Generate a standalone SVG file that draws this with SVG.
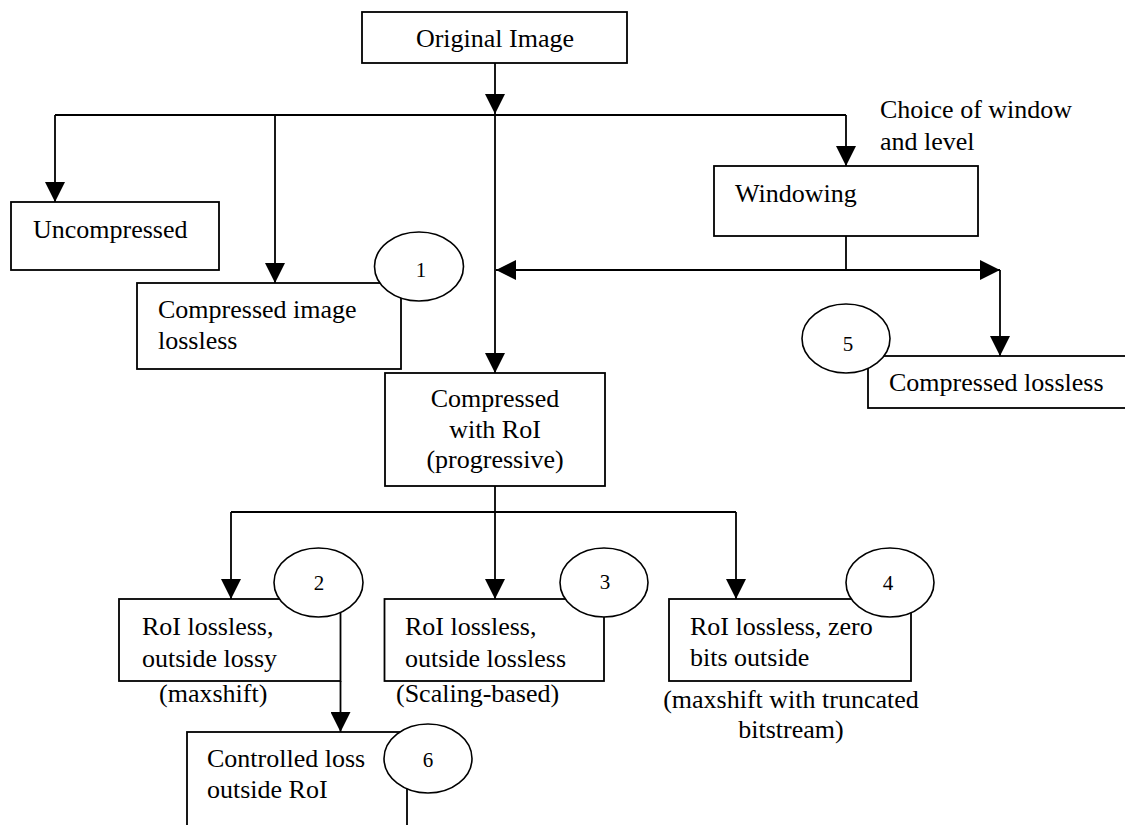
<svg xmlns="http://www.w3.org/2000/svg" width="1125" height="825" viewBox="0 0 1125 825">
<style>
.box{fill:#fff;stroke:#000;stroke-width:1.8}
.ell{fill:#fff;stroke:#000;stroke-width:1.6}
.t{font-family:"Liberation Serif","Times New Roman",serif;font-size:26px;fill:#000}
.n{font-family:"Liberation Serif","Times New Roman",serif;font-size:21px;fill:#000;text-anchor:middle}
.c{stroke:#000;stroke-width:1.8;fill:none}
.a{stroke:#000;stroke-width:1.8;fill:none;marker-end:url(#ah)}
</style>
<defs>
<marker id="ah" viewBox="0 0 20 20" refX="20" refY="10" markerWidth="20" markerHeight="20" markerUnits="userSpaceOnUse" orient="auto">
<path d="M0,0 L20,10 L0,20 Z" fill="#000"/>
</marker>
</defs>
<rect width="1125" height="825" fill="#fff"/>
<g id="connectors">
<line class="a" x1="495" y1="63" x2="495" y2="114"/>
<line class="c" x1="55" y1="115" x2="846" y2="115"/>
<line class="a" x1="55" y1="115" x2="55" y2="202"/>
<line class="a" x1="275" y1="115" x2="275" y2="283"/>
<line class="a" x1="495" y1="115" x2="495" y2="373"/>
<line class="a" x1="846" y1="115" x2="846" y2="166"/>
<line class="c" x1="846" y1="236" x2="846" y2="270"/>
<line class="a" x1="846" y1="270" x2="496" y2="270"/>
<line class="a" x1="846" y1="270" x2="1000" y2="270"/>
<line class="a" x1="1000" y1="270" x2="1000" y2="356"/>
<line class="c" x1="495" y1="486" x2="495" y2="512"/>
<line class="c" x1="231" y1="512" x2="736" y2="512"/>
<line class="a" x1="231" y1="512" x2="231" y2="599"/>
<line class="a" x1="495" y1="512" x2="495" y2="599"/>
<line class="a" x1="736" y1="512" x2="736" y2="599"/>
<line class="a" x1="340.5" y1="681" x2="340.5" y2="732"/>
</g>
<g id="n-original">
<rect class="box" x="362" y="12" width="265" height="51"/>
<text class="t" x="495" y="47" text-anchor="middle">Original Image</text>
</g>
<g id="n-choice">
<text class="t" x="880" y="118">Choice of window</text>
<text class="t" x="880" y="150">and level</text>
</g>
<g id="n-uncompressed">
<rect class="box" x="11" y="202" width="208" height="68"/>
<text class="t" x="33" y="238">Uncompressed</text>
</g>
<g id="n-windowing">
<rect class="box" x="714" y="166" width="264" height="70"/>
<text class="t" x="735" y="202">Windowing</text>
</g>
<g id="n-lossless1">
<rect class="box" x="137" y="283" width="264" height="86"/>
<text class="t" x="158" y="318">Compressed image</text>
<text class="t" x="158" y="349">lossless</text>
<ellipse class="ell" cx="419" cy="266.5" rx="44.5" ry="34.5"/>
<text class="n" x="421" y="277">1</text>
</g>
<g id="n-lossless5">
<rect class="box" x="868" y="356" width="262" height="52"/>
<text class="t" x="889" y="391">Compressed lossless</text>
<ellipse class="ell" cx="846" cy="338.5" rx="44" ry="34.5"/>
<text class="n" x="848" y="351">5</text>
</g>
<g id="n-roi">
<rect class="box" x="385" y="373" width="220" height="113"/>
<text class="t" x="495" y="407" text-anchor="middle">Compressed</text>
<text class="t" x="495" y="438" text-anchor="middle">with RoI</text>
<text class="t" x="495" y="468" text-anchor="middle">(progressive)</text>
</g>
<g id="n-2">
<rect class="box" x="119" y="599" width="221.5" height="82"/>
<text class="t" x="142" y="635">RoI lossless,</text>
<text class="t" x="142" y="667">outside lossy</text>
<ellipse class="ell" cx="318.5" cy="582.5" rx="44.5" ry="34.5"/>
<text class="n" x="319" y="590">2</text>
<text class="t" x="159" y="702">(maxshift)</text>
</g>
<g id="n-3">
<rect class="box" x="384.5" y="599" width="219.5" height="82"/>
<text class="t" x="405" y="635">RoI lossless,</text>
<text class="t" x="405" y="667">outside lossless</text>
<ellipse class="ell" cx="604" cy="582.5" rx="44" ry="34.5"/>
<text class="n" x="605" y="589">3</text>
<text class="t" x="396" y="702">(Scaling-based)</text>
</g>
<g id="n-4">
<rect class="box" x="669" y="599" width="242" height="82"/>
<text class="t" x="690" y="635">RoI lossless, zero</text>
<text class="t" x="690" y="666">bits outside</text>
<ellipse class="ell" cx="890" cy="582.5" rx="44" ry="34.5"/>
<text class="n" x="888" y="590">4</text>
<text class="t" x="791" y="708" text-anchor="middle">(maxshift with truncated</text>
<text class="t" x="791" y="738" text-anchor="middle">bitstream)</text>
</g>
<g id="n-6">
<rect class="box" x="187" y="732" width="220" height="110"/>
<text class="t" x="207" y="767">Controlled loss</text>
<text class="t" x="207" y="798">outside RoI</text>
<ellipse class="ell" cx="428" cy="758.5" rx="44" ry="34.5"/>
<text class="n" x="428" y="767">6</text>
</g>
</svg>
